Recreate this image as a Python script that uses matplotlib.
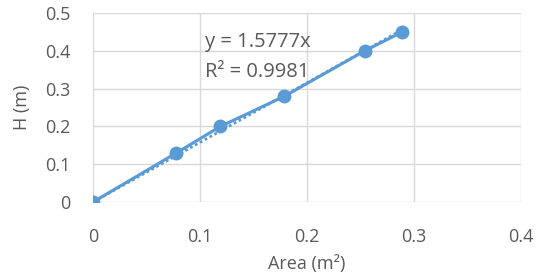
import numpy as np
import matplotlib
matplotlib.use('Agg')
from matplotlib import pyplot as plt

area = [0.0, 0.078, 0.119, 0.179, 0.254, 0.289]
height = [0.0, 0.13, 0.20, 0.28, 0.40, 0.45]
slope = 1.5777
r2 = 0.9981

blue = '#5B9BD5'
grey = '#595959'
plt.rcParams['font.family'] = ['Open Sans', 'DejaVu Sans']

fig = plt.figure(figsize=(5.38, 2.79), dpi=100)
ax = fig.add_axes([0.173, 0.276, 0.795, 0.677])

# trendline (dotted) through origin
tx = np.array([0.0, max(area)])
ax.plot(tx, slope * tx, color=blue, lw=2, ls=(0, (1, 1)), zorder=3)
ax.plot(area, height, color=blue, lw=2.2, marker='o', ms=9, zorder=4)

ax.set_xlim(0, 0.4)
ax.set_ylim(0, 0.5)
ax.set_xticks([0, 0.1, 0.2, 0.3, 0.4])
ax.set_xticklabels(['0', '0.1', '0.2', '0.3', '0.4'])
ax.set_yticks([0, 0.1, 0.2, 0.3, 0.4, 0.5])
ax.set_yticklabels(['0', '0.1', '0.2', '0.3', '0.4', '0.5'])
ax.grid(True, color='#D9D9D9', lw=1)
ax.set_axisbelow(True)
for s in ax.spines.values():
    s.set_visible(False)
ax.tick_params(axis='y', length=0, labelsize=13, colors=grey, pad=16)
ax.tick_params(axis='x', length=0, labelsize=13, colors=grey, pad=19)

ax.text(0.105, 0.423, f'y = {slope}x', fontsize=14.5, color=grey, va='center')
ax.text(0.105, 0.345, f'R² = {r2}', fontsize=14.5, color=grey, va='center')

ax.set_xlabel('Area (m²)', fontsize=13, color=grey, labelpad=6)
ax.set_ylabel('H (m)', fontsize=13, color=grey, labelpad=10)

fig.savefig('out.png', dpi=100)
plt.close()
